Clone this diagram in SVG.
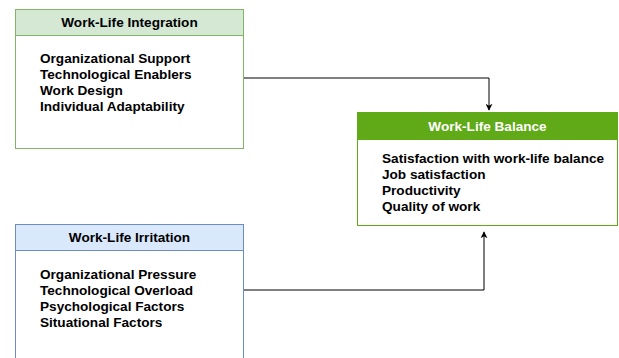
<svg xmlns="http://www.w3.org/2000/svg" width="619" height="358" viewBox="0 0 619 358">
  <defs>
    <marker id="arrow" viewBox="0 0 10 10" refX="9" refY="5" markerWidth="7" markerHeight="7" orient="auto" markerUnits="userSpaceOnUse">
      <path d="M0,0 L10,5 L0,10 L3,5 Z" fill="#000"/>
    </marker>
  </defs>
  <style>
    text { font-family: "Liberation Sans", Arial, sans-serif; font-weight: bold; font-size: 13.6px; fill: #000; }
    .title { text-anchor: middle; }
    .edge { fill: none; stroke: #000; stroke-width: 1; }
  </style>
  <rect width="619" height="358" fill="#fff"/>

  <g id="connectors">
    <path class="edge" d="M243,78 H489 V110" marker-end="url(#arrow)"/>
    <path class="edge" d="M243,290 H484 V232" marker-end="url(#arrow)"/>
  </g>

  <g id="work-life-integration">
    <rect x="15.5" y="9.5" width="228" height="139" fill="#fff" stroke="#82b366"/>
    <rect x="15.5" y="9.5" width="228" height="26" fill="#d5e8d4" stroke="#82b366"/>
    <text class="title" x="129.5" y="27">Work-Life Integration</text>
    <text x="40" y="63">Organizational Support</text>
    <text x="40" y="79">Technological Enablers</text>
    <text x="40" y="95">Work Design</text>
    <text x="40" y="111">Individual Adaptability</text>
  </g>

  <g id="work-life-irritation">
    <rect x="15.5" y="224.5" width="228" height="140" fill="#fff" stroke="#6c8ebf"/>
    <rect x="15.5" y="224.5" width="228" height="26" fill="#dae8fc" stroke="#6c8ebf"/>
    <text class="title" x="129.5" y="242">Work-Life Irritation</text>
    <text x="40" y="279">Organizational Pressure</text>
    <text x="40" y="295">Technological Overload</text>
    <text x="40" y="311">Psychological Factors</text>
    <text x="40" y="327">Situational Factors</text>
  </g>

  <g id="work-life-balance">
    <rect x="357.5" y="112.5" width="260" height="113" fill="#fff" stroke="#60a917"/>
    <rect x="357.5" y="112.5" width="260" height="27" fill="#60a917" stroke="#60a917"/>
    <text class="title" x="487.5" y="131" style="fill:#fff">Work-Life Balance</text>
    <text x="382" y="163">Satisfaction with work-life balance</text>
    <text x="382" y="179">Job satisfaction</text>
    <text x="382" y="195">Productivity</text>
    <text x="382" y="211">Quality of work</text>
  </g>
</svg>
